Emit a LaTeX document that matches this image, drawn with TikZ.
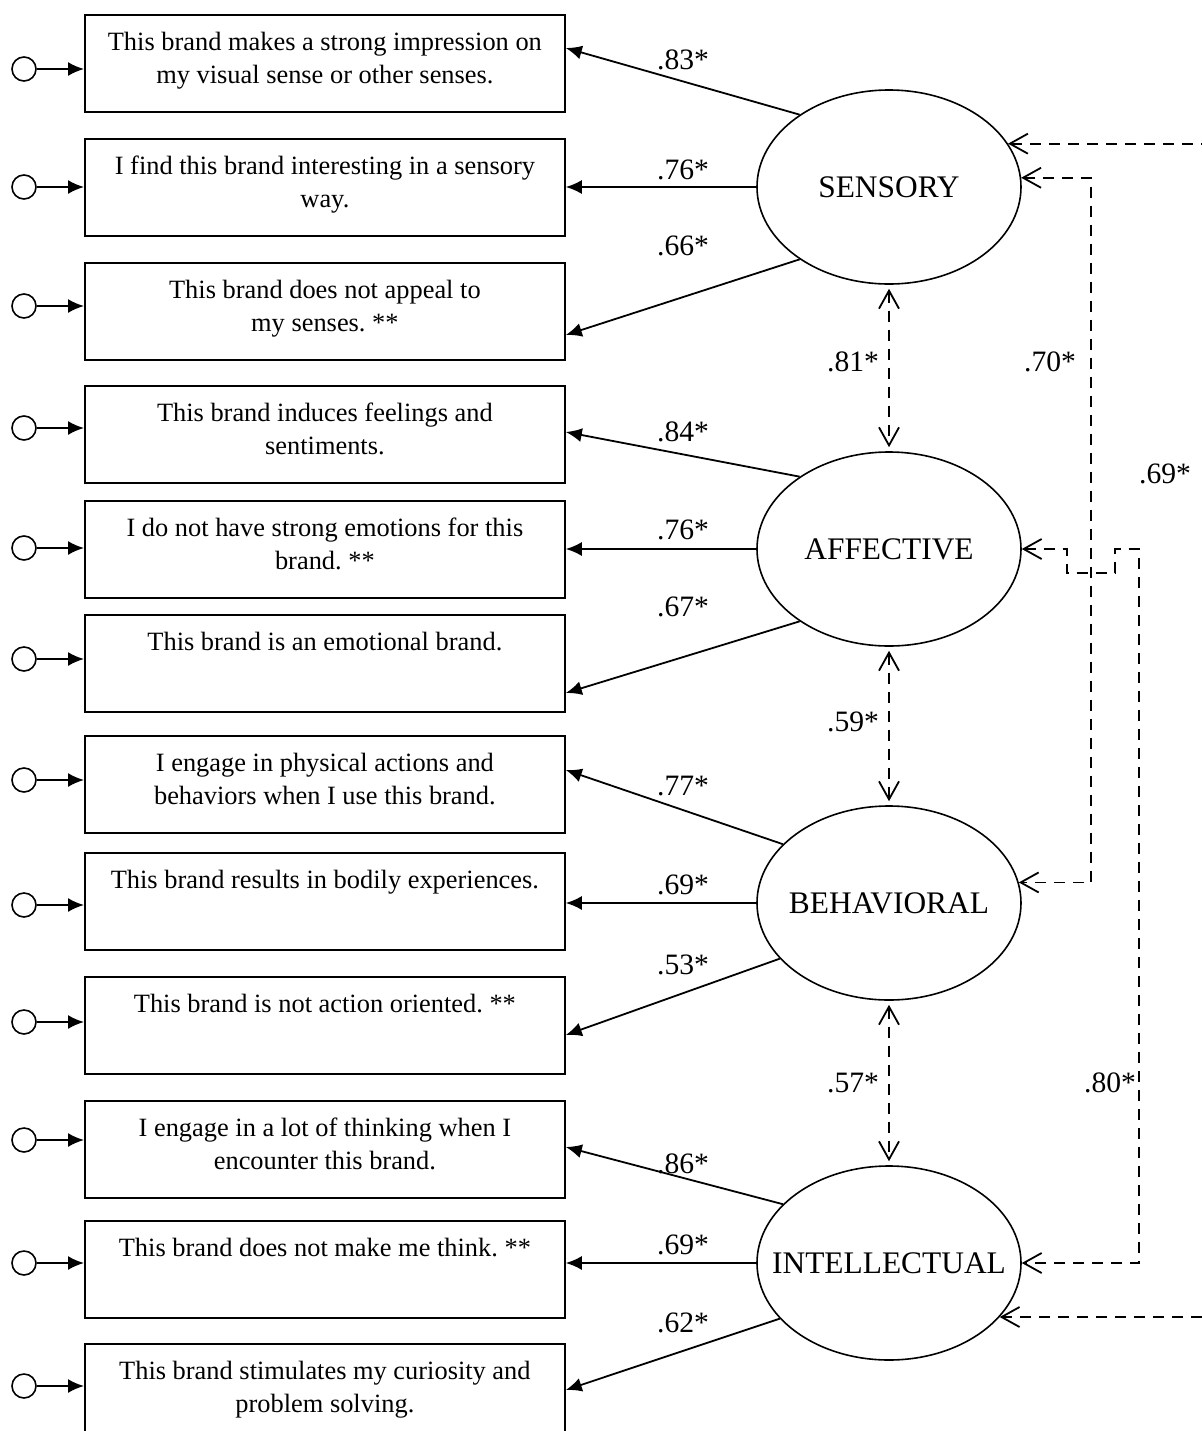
\documentclass[tikz,border=0pt]{standalone}
\usepackage{fontspec}
\setmainfont{Liberation Serif}
\usetikzlibrary{arrows.meta,shapes.geometric,calc}
\newcommand\boxtxt[1]{\parbox[c][48.5pt][t]{240pt}{\vspace*{6.4pt}\centering\frenchspacing\fontsize{13.2}{16.5}\selectfont\strut #1}}
\newcommand\lattxt[1]{\makebox[0pt]{#1}}
\begin{document}
\begin{tikzpicture}[x=0.5pt,y=-0.5pt,
  box/.style={draw, line width=0.9pt, inner sep=0, anchor=north west, minimum width=240pt, minimum height=48.5pt},
  lat/.style={draw, ellipse, line width=0.8pt, minimum width=132pt, minimum height=97pt, inner sep=0, font=\fontsize{15.7}{18}\selectfont},
  err/.style={draw, circle, line width=0.8pt, minimum size=12pt, inner sep=0},
  load/.style={line width=0.9pt, -{Latex[length=8pt,width=7pt]}},
  errarr/.style={line width=0.9pt, -{Latex[length=8pt,width=7pt]}},
  covarr/.style={line width=0.9pt, dash pattern=on 5.5pt off 4pt, arrows={Straight Barb[length=9pt,width=10pt]-Straight Barb[length=9pt,width=10pt]}},
  lbl/.style={inner sep=0, font=\fontsize{14.8}{17}\selectfont},
]
\useasboundingbox (0,0) rectangle (1202,1431);
\clip (0,0) rectangle (1202,1431);

% indicator boxes
\node[box] (b1) at (84,14) {\boxtxt{This brand makes a strong impression on\\my visual sense or other senses.}};
\node[box] (b2) at (84,138) {\boxtxt{I find this brand interesting in a sensory\\way.}};
\node[box] (b3) at (84,262) {\boxtxt{This brand does not appeal to\\my senses. **}};
\node[box] (b4) at (84,385) {\boxtxt{This brand induces feelings and\\sentiments.}};
\node[box] (b5) at (84,500) {\boxtxt{I do not have strong emotions for this\\brand. **}};
\node[box] (b6) at (84,614) {\boxtxt{This brand is an emotional brand.}};
\node[box] (b7) at (84,735) {\boxtxt{I engage in physical actions and\\behaviors when I use this brand.}};
\node[box] (b8) at (84,852) {\boxtxt{This brand results in bodily experiences.}};
\node[box] (b9) at (84,976) {\boxtxt{This brand is not action oriented. **}};
\node[box] (b10) at (84,1100) {\boxtxt{I engage in a lot of thinking when I\\encounter this brand.}};
\node[box] (b11) at (84,1220) {\boxtxt{This brand does not make me think. **}};
\node[box] (b12) at (84,1343) {\boxtxt{This brand stimulates my curiosity and\\problem solving.}};

% error terms
\foreach \i/\y in {1/69,2/187,3/306,4/428,5/548,6/659,7/780,8/905,9/1022,10/1140,11/1263,12/1386}{
  \node[err] (e\i) at (24,\y) {};
  \draw[errarr] (e\i.east) -- (e\i.east -| b\i.west);
}

% latent variables
\node[lat] (sen) at (889,187) {\lattxt{SENSORY}};
\node[lat] (aff) at (889,549) {\lattxt{AFFECTIVE}};
\node[lat] (beh) at (889,903) {\lattxt{BEHAVIORAL}};
\node[lat] (int) at (889,1263) {\lattxt{INTELLECTUAL}};

% loadings
\draw[load] (sen.141) -- (b1.east |- 0,48);
\draw[load] (sen.west) -- (sen.west -| b2.east);
\draw[load] (sen.219) -- (b3.east |- 0,335);
\draw[load] (aff.141) -- (b4.east |- 0,432);
\draw[load] (aff.west) -- (aff.west -| b5.east);
\draw[load] (aff.219) -- (b6.east |- 0,693);
\draw[load] (beh.151) -- (b7.east |- 0,770);
\draw[load] (beh.west) -- (beh.west -| b8.east);
\draw[load] (beh.207) -- (b9.east |- 0,1035);
\draw[load] (int.151) -- (b10.east |- 0,1147);
\draw[load] (int.west) -- (int.west -| b11.east);
\draw[load] (int.207) -- (b12.east |- 0,1390);

\node[lbl] (l1) at (683,60) {.83*};
\node[lbl] (l2) at (683,170) {.76*};
\node[lbl] (l3) at (683,246) {.66*};
\node[lbl] (l4) at (683,432) {.84*};
\node[lbl] (l5) at (683,530) {.76*};
\node[lbl] (l6) at (683,607) {.67*};
\node[lbl] (l7) at (683,786) {.77*};
\node[lbl] (l8) at (683,885) {.69*};
\node[lbl] (l9) at (683,965) {.53*};
\node[lbl] (l10) at (683,1164) {.86*};
\node[lbl] (l11) at (683,1245) {.69*};
\node[lbl] (l12) at (683,1323) {.62*};

% correlations
\draw[covarr, shorten <=2pt, shorten >=2pt] (sen.south) -- (aff.north);
\draw[covarr, shorten <=2pt, shorten >=2pt] (aff.south) -- (beh.north);
\draw[covarr, shorten <=2pt, shorten >=2pt] (beh.south) -- (int.north);
\node[lbl] (c1) at (853,362) {.81*};
\node[lbl] (c2) at (853,722) {.59*};
\node[lbl] (c3) at (853,1083) {.57*};

\draw[covarr] (sen.4) -- ++(70,0) |- (beh.9);
\draw[covarr] (aff.east) -- ++(45,0) -- ++(0,24) -- ++(48,0) -- ++(0,-24) -- ++(24,0) |- (int.east);
\draw[covarr] (sen.20) -- ++(300,0) |- (int.334);
\node[lbl] (c4) at (1050,362) {.70*};
\node[lbl] (c5) at (1165,474) {.69*};
\node[lbl] (c6) at (1110,1083) {.80*};
\end{tikzpicture}
\end{document}
